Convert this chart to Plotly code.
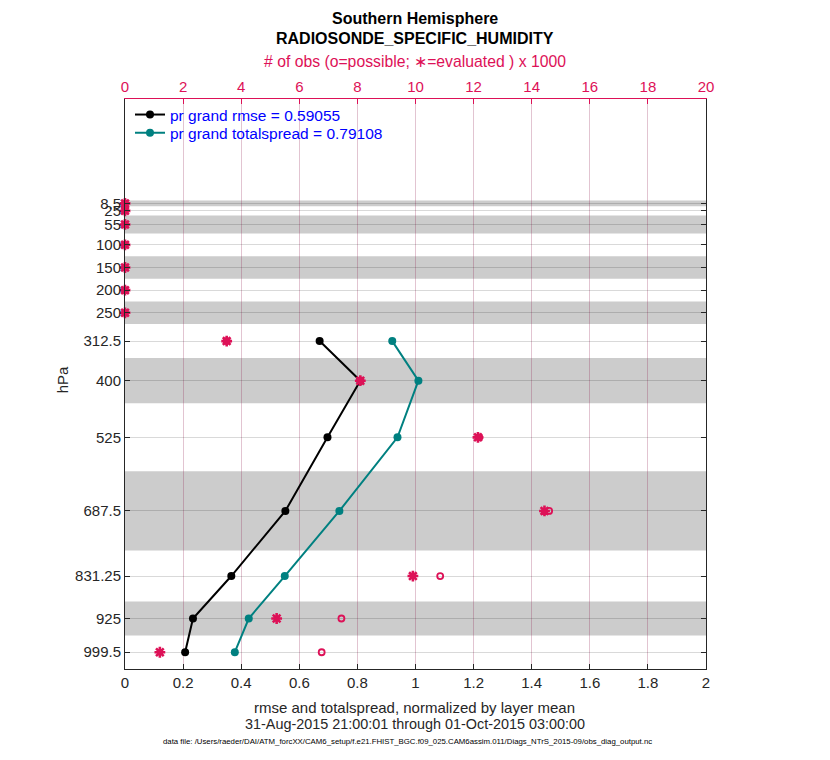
import plotly.graph_objects as go

# ---- data ----
levels = [8.5, 25, 55, 100, 150, 200, 250, 312.5, 400, 525, 687.5, 831.25, 925, 999.5]
level_labels = ["8.5", "25", "55", "100", "150", "200", "250", "312.5", "400", "525",
                "687.5", "831.25", "925", "999.5"]
layer_edges = [2, 15, 35, 75, 125, 175, 225, 275, 350, 450, 600, 775, 887.5, 962.5, 1036.5]

rmse_levels = [312.5, 400, 525, 687.5, 831.25, 925, 999.5]
rmse = [0.670, 0.810, 0.697, 0.552, 0.366, 0.234, 0.207]
totalspread = [0.920, 1.010, 0.938, 0.738, 0.550, 0.426, 0.378]

nobs_possible = [0, 0, 0, 0, 0, 0, 0, 3.5, 8.1, 12.2, 14.6, 10.85, 7.45, 6.77]
nobs_used = [0, 0, 0, 0, 0, 0, 0, 3.5, 8.1, 12.15, 14.44, 9.91, 5.22, 1.2]

x_ticks = [0, 0.2, 0.4, 0.6, 0.8, 1, 1.2, 1.4, 1.6, 1.8, 2]
x_ticklabels = ["0", "0.2", "0.4", "0.6", "0.8", "1", "1.2", "1.4", "1.6", "1.8", "2"]
top_ticks = [0, 2, 4, 6, 8, 10, 12, 14, 16, 18, 20]

grand_rmse = 0.59055
grand_spread = 0.79108

CRIMSON = "#dd1157"
TEAL = "#008080"
FONT = "Liberation Sans, Arial, Helvetica, sans-serif"

fig = go.Figure()

# gray bands on alternating layers
shapes = []
for i in range(0, len(layer_edges) - 1, 2):
    shapes.append(dict(type="rect", xref="x domain", yref="y", x0=0, x1=1,
                       y0=layer_edges[i], y1=layer_edges[i + 1],
                       fillcolor="#cccccc", line=dict(width=0), layer="below"))

fig.add_trace(go.Scatter(x=rmse, y=rmse_levels, mode="lines+markers",
                         name=f"pr grand rmse = {grand_rmse}", legend="legend",
                         line=dict(color="black", width=2),
                         marker=dict(color="black", size=8, symbol="circle")))
fig.add_trace(go.Scatter(x=totalspread, y=rmse_levels, mode="lines+markers",
                         name=f"pr grand totalspread = {grand_spread}", legend="legend2",
                         line=dict(color=TEAL, width=2),
                         marker=dict(color=TEAL, size=8, symbol="circle")))

fig.add_trace(go.Scatter(x=nobs_possible, y=levels, mode="markers", xaxis="x2",
                         showlegend=False, cliponaxis=False,
                         marker=dict(symbol="circle-open", size=6, color=CRIMSON,
                                     line=dict(width=1.8, color=CRIMSON))))
fig.add_trace(go.Scatter(x=nobs_used, y=levels, mode="markers", xaxis="x2",
                         showlegend=False, cliponaxis=False,
                         marker=dict(symbol="asterisk-open", size=9, color=CRIMSON,
                                     line=dict(width=2.6, color=CRIMSON))))

axfont = dict(family=FONT, size=15, color="#262626")
legfont = dict(family=FONT, size=15.5, color="#0000ff")

fig.update_layout(
    width=822, height=752,
    margin=dict(l=117, r=124, t=91, b=91, autoexpand=False),
    paper_bgcolor="white", plot_bgcolor="white",
    font=dict(family=FONT, size=15, color="#262626"),
    shapes=shapes,
    showlegend=True,
    legend=dict(x=0.0086, y=0.972, xanchor="left", yanchor="middle",
                bgcolor="rgba(0,0,0,0)", font=legfont, itemwidth=30),
    legend2=dict(x=0.0086, y=0.940, xanchor="left", yanchor="middle",
                 bgcolor="rgba(0,0,0,0)", font=legfont, itemwidth=30),
    xaxis=dict(range=[0, 2], tickvals=x_ticks, ticktext=x_ticklabels,
               ticks="inside", ticklen=5, tickcolor="#262626",
               showline=True, linecolor="#262626", linewidth=1, mirror=False,
               showgrid=True, gridcolor="rgba(140,20,70,0.25)", gridwidth=1,
               zeroline=False, tickfont=axfont, automargin=False),
    xaxis2=dict(range=[0, 20], tickvals=top_ticks, overlaying="x", side="top",
                ticks="inside", ticklen=5, tickcolor=CRIMSON,
                showline=True, linecolor=CRIMSON, linewidth=1,
                showgrid=False, zeroline=False, automargin=False,
                tickfont=dict(family=FONT, size=15, color=CRIMSON)),
    yaxis=dict(range=[1036.5, -222], tickvals=levels, ticktext=level_labels,
               ticks="inside", ticklen=5, tickcolor="#262626",
               showline=True, linecolor="#262626", linewidth=1, mirror="ticks",
               showgrid=True, gridcolor="rgba(0,0,0,0.15)", gridwidth=1,
               zeroline=False, tickfont=axfont, automargin=False),
)

annos = [
    dict(text="<b>Southern Hemisphere</b>", x=0.499, y=1.142, size=16, color="black"),
    dict(text="<b>RADIOSONDE_SPECIFIC_HUMIDITY</b>", x=0.499, y=1.107, size=16, color="black"),
    dict(text="# of obs (o=possible; \u2217=evaluated ) x 1000", x=0.499, y=1.065, size=15.75, color=CRIMSON),
    dict(text="rmse and totalspread, normalized by layer mean", x=0.499, y=-0.0667, size=15, color="#262626"),
    dict(text="31-Aug-2015 21:00:01 through 01-Oct-2015 03:00:00", x=0.499, y=-0.0965, size=14.4, color="#262626"),
    dict(text="data file: /Users/raeder/DAI/ATM_forcXX/CAM6_setup/f.e21.FHIST_BGC.f09_025.CAM6assim.011/Diags_NTrS_2015-09/obs_diag_output.nc",
         x=0.486, y=-0.128, size=7.8, color="black"),
]
for a in annos:
    fig.add_annotation(text=a["text"], x=a["x"], y=a["y"], xref="paper", yref="paper",
                       xanchor="center", yanchor="middle", showarrow=False,
                       font=dict(family=FONT, size=a["size"], color=a["color"]))
fig.add_annotation(text="hPa", x=-0.108, y=0.507, xref="paper", yref="paper",
                   xanchor="center", yanchor="middle", showarrow=False, textangle=-90,
                   font=dict(family=FONT, size=15, color="#262626"))

fig.write_html("out.html")
